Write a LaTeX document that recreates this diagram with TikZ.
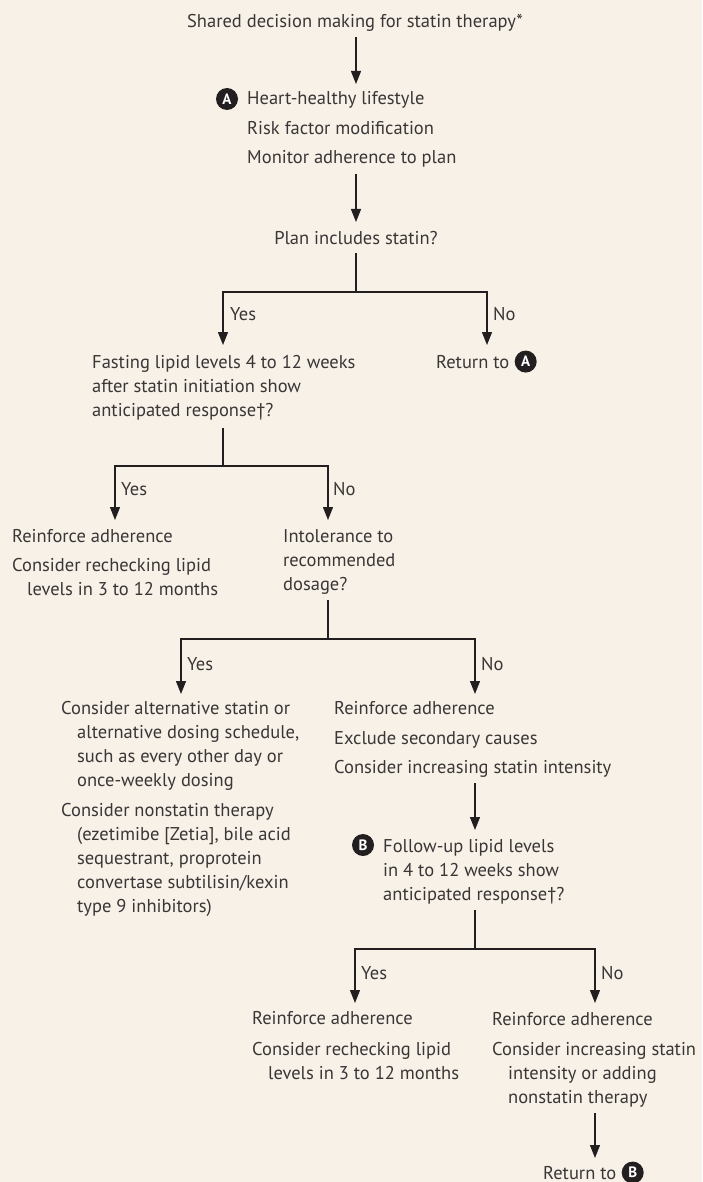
\documentclass[tikz,border=0pt]{standalone}
\usepackage{fontspec}
\setmainfont{PT Sans}
\usetikzlibrary{arrows.meta,positioning}
\definecolor{paper}{RGB}{247,241,232}
\definecolor{ink}{RGB}{35,31,32}
\definecolor{txtgray}{RGB}{58,54,54}

\begin{document}
\begin{tikzpicture}[x=1pt,y=-1pt,
  every node/.style={inner sep=0pt,text=txtgray,font=\fontsize{18.5}{24}\selectfont},
  lbl/.style={anchor=base west,align=left,yshift=-2pt},
  badge/.style={circle,fill=ink,text=white,minimum size=22pt,font=\fontsize{15}{15}\selectfont\bfseries},
  stem/.style={draw=ink,line width=1.2pt},
  arr/.style={stem,-{Triangle[length=13pt,width=10pt]}}]
\fill[paper] (0,0) rectangle (702,1182);
\useasboundingbox (0,0) rectangle (702,1182);

% top of the chart
\node[lbl,anchor=base] (title) at (355,26) {Shared decision making for statin therapy*};
\node[badge] (bA) at (227,99) {A};
\node[lbl] (life) at (247,103) {Heart-healthy lifestyle};
\node[lbl] (risk) at (247,133) {Risk factor modification};
\node[lbl] (monitor) at (247,162) {Monitor adherence to plan};
\node[lbl,anchor=base] (plan) at (356,242) {Plan includes statin?};

\coordinate (t1) at (356,84);
\coordinate (t2) at (356,222);
\coordinate (j1) at (356,292);
\coordinate (y1) at (223,345);
\coordinate (n1) at (487,345);
\draw[arr] (t1 |- title.base) ++(0,9) -- (t1);
\draw[arr] (t2 |- monitor.base) ++(0,10) -- (t2);
\draw[stem] (j1 |- plan.base) ++(0,9) -- (j1);
\draw[arr] (j1) -| (y1);
\draw[arr] (j1) -| (n1);
\node[lbl] (yes1) at (230,318) {Yes};
\node[lbl] (no1) at (493,318) {No};

% multi-line texts are placed by their last line
\node[lbl] (fasting) at (92,414) {Fasting lipid levels 4 to 12 weeks\\after statin initiation show\\anticipated response†?};
\node[lbl] (retA) at (436,366) {Return to};
\node[badge,right=5pt of retA] (bA2) {A};

% first response check
\coordinate (j2) at (223,466);
\coordinate (y2) at (115,520);
\coordinate (n2) at (328,520);
\draw[stem] (j2 |- fasting.south) ++(0,8) -- (j2);
\draw[arr] (j2) -| (y2);
\draw[arr] (j2) -| (n2);
\node[lbl] (yes2) at (121,493) {Yes};
\node[lbl] (no2) at (333,493) {No};
\node[lbl] (reinf1) at (12,540) {Reinforce adherence};
\node[lbl] (recheck1) at (12,593) {Consider rechecking lipid\\\hspace*{15pt}levels in 3 to 12 months};
\node[lbl] (intol) at (283,588) {Intolerance to\\recommended\\dosage?};

% intolerance
\coordinate (j3) at (328,639);
\coordinate (y3) at (181,694);
\coordinate (n3) at (475,694);
\draw[stem] (j3 |- intol.south) ++(0,6) -- (j3);
\draw[arr] (j3) -| (y3);
\draw[arr] (j3) -| (n3);
\node[lbl] (yes3) at (187,668) {Yes};
\node[lbl] (no3) at (481,668) {No};
\node[lbl] (altstatin) at (61,784) {Consider alternative statin or\\\hspace*{16pt}alternative dosing schedule,\\\hspace*{16pt}such as every other day or\\\hspace*{16pt}once-weekly dosing};
\node[lbl] (nonstatin) at (61,910) {Consider nonstatin therapy\\\hspace*{16pt}(ezetimibe [Zetia], bile acid\\\hspace*{16pt}sequestrant, proprotein\\\hspace*{16pt}convertase subtilisin/kexin\\\hspace*{16pt}type 9 inhibitors)};
\node[lbl] (reinf2) at (334,712) {Reinforce adherence};
\node[lbl] (exclude) at (334,742) {Exclude secondary causes};
\node[lbl] (increase) at (334,771) {Consider increasing statin intensity};

\coordinate (t3) at (475,830);
\draw[arr] (t3 |- increase.base) ++(0,10) -- (t3);
\node[badge] (bB) at (363,845) {B};
\node[lbl] (followup) at (383,898) {Follow-up lipid levels\\in 4 to 12 weeks show\\anticipated response†?};

% follow-up check
\coordinate (j4) at (475,949);
\coordinate (y4) at (355,1003);
\coordinate (n4) at (595,1003);
\draw[stem] (j4 |- followup.south) ++(0,6) -- (j4);
\draw[arr] (j4) -| (y4);
\draw[arr] (j4) -| (n4);
\node[lbl] (yes4) at (361,977) {Yes};
\node[lbl] (no4) at (601,977) {No};
\node[lbl] (reinf3) at (252,1022) {Reinforce adherence};
\node[lbl] (recheck2) at (252,1077) {Consider rechecking lipid\\\hspace*{16pt}levels in 3 to 12 months};
\node[lbl] (reinf4) at (492,1023) {Reinforce adherence};
\node[lbl] (increase2) at (492,1101) {Consider increasing statin\\\hspace*{16pt}intensity or adding\\\hspace*{16pt}nonstatin therapy};

\coordinate (t4) at (595,1158);
\draw[arr] (t4 |- increase2.south) ++(0,6) -- (t4);
\node[lbl] (retB) at (543,1177) {Return to};
\node[badge,right=5pt of retB] (bB2) {B};
\end{tikzpicture}
\end{document}
